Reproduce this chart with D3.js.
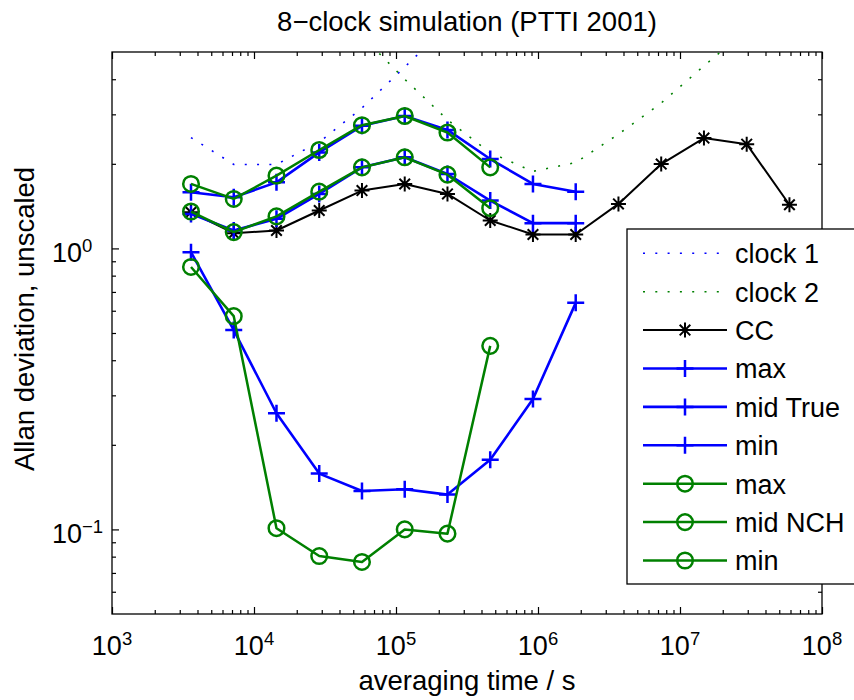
<!DOCTYPE html>
<html><head><meta charset="utf-8">
<script src="https://cdn.jsdelivr.net/npm/d3@7"></script>
<style>
body{margin:0;background:#fff}
svg{display:block;font-family:"Liberation Sans",Arial,Helvetica,sans-serif}
</style>
</head><body>
<svg id="c" width="854" height="700"></svg>
<script>
// ---------- data ----------
const tau = [3600, 7200, 14400, 28800, 57600, 115200, 230400, 460800, 921600, 1843200,
             3686400, 7372800, 14745600, 29491200, 58982400];
const clock1   = [2.48, 1.99, 1.99, 2.39, 3.16, 4.42, 6.2];
const clock2   = [null, null, null, null, 5.7, 4.0, 2.87, 2.19, 1.88, 2.02, 2.55, 3.29, 4.46, 6.0];
const cc       = [1.345, 1.133, 1.158, 1.364, 1.606, 1.695, 1.563, 1.257, 1.121, 1.121, 1.44, 1.996, 2.47, 2.35, 1.43];
const trueMax  = [1.584, 1.52, 1.718, 2.196, 2.73, 2.96, 2.64, 2.08, 1.696, 1.592];
const trueMid  = [1.327, 1.158, 1.274, 1.563, 1.943, 2.11, 1.84, 1.48, 1.23, 1.23];
const trueMin  = [0.970, 0.512, 0.259, 0.158, 0.137, 0.139, 0.133, 0.177, 0.291, 0.640];
const nchMax   = [1.696, 1.50, 1.815, 2.24, 2.745, 2.96, 2.585, 1.943];
const nchMid   = [1.353, 1.143, 1.30, 1.592, 1.943, 2.11, 1.83, 1.39];
const nchMin   = [0.859, 0.574, 0.101, 0.0804, 0.0766, 0.100, 0.0966, 0.450];
const legendLabels = ["clock 1", "clock 2", "CC", "max", "mid True", "min", "max", "mid NCH", "min"];
const xTickExps = [3, 4, 5, 6, 7, 8];
const yTickExps = [-1, 0];
const titleText = "8\u2212clock simulation (PTTI 2001)";
const xLabel = "averaging time / s";
const yLabel = "Allan deviation, unscaled";

// ---------- layout ----------
const L = 112, R = 822, T = 52, B = 614;
const svg = d3.select("#c");
const x = d3.scaleLog().domain([1e3, 1e8]).range([L, R]);
const y = d3.scaleLog().domain([0.05, 5]).range([B, T]);

const BLUE = "#0000ff", GREEN = "#008000", BLACK = "#000000";
const series = [
  {data: clock1, color: BLUE, dotted: true, marker: null},
  {data: clock2, color: GREEN, dotted: true, marker: null},
  {data: cc, color: BLACK, marker: "star", lw: 2},
  {data: trueMax, color: BLUE, marker: "plus", lw: 2.6},
  {data: trueMid, color: BLUE, marker: "plus", lw: 2.6},
  {data: trueMin, color: BLUE, marker: "plus", lw: 2.6},
  {data: nchMax, color: GREEN, marker: "circle", lw: 2.5},
  {data: nchMid, color: GREEN, marker: "circle", lw: 2.5},
  {data: nchMin, color: GREEN, marker: "circle", lw: 2.5}
];

svg.append("defs").append("clipPath").attr("id", "clip")
  .append("rect").attr("x", L).attr("y", T).attr("width", R - L).attr("height", B - T);

// ---------- axes ----------
const majX = xTickExps.map(e => Math.pow(10, e));
const minX = [];
for (let e = 3; e < 8; e++) for (let m = 2; m <= 9; m++) minX.push(m * Math.pow(10, e));
const majY = yTickExps.map(e => Math.pow(10, e));
const minY = [0.06, 0.07, 0.08, 0.09, 0.2, 0.3, 0.4, 0.5, 0.6, 0.7, 0.8, 0.9, 2, 3, 4];

function styleAxis(g) {
  g.select(".domain").remove();
  g.selectAll("line").attr("stroke", "#000").attr("stroke-width", 1.2);
  g.selectAll("text").remove();
}
const axG = svg.append("g");
axG.append("g").attr("transform", `translate(0,${B})`).call(d3.axisBottom(x).tickValues(majX).tickSizeInner(-7).tickSizeOuter(0)).call(styleAxis);
axG.append("g").attr("transform", `translate(0,${B})`).call(d3.axisBottom(x).tickValues(minX).tickSizeInner(-4).tickSizeOuter(0)).call(styleAxis);
axG.append("g").attr("transform", `translate(0,${T})`).call(d3.axisTop(x).tickValues(majX).tickSizeInner(-7).tickSizeOuter(0)).call(styleAxis);
axG.append("g").attr("transform", `translate(0,${T})`).call(d3.axisTop(x).tickValues(minX).tickSizeInner(-4).tickSizeOuter(0)).call(styleAxis);
axG.append("g").attr("transform", `translate(${L},0)`).call(d3.axisLeft(y).tickValues(majY).tickSizeInner(-7).tickSizeOuter(0)).call(styleAxis);
axG.append("g").attr("transform", `translate(${L},0)`).call(d3.axisLeft(y).tickValues(minY).tickSizeInner(-4).tickSizeOuter(0)).call(styleAxis);
axG.append("g").attr("transform", `translate(${R},0)`).call(d3.axisRight(y).tickValues(majY).tickSizeInner(-7).tickSizeOuter(0)).call(styleAxis);
axG.append("g").attr("transform", `translate(${R},0)`).call(d3.axisRight(y).tickValues(minY).tickSizeInner(-4).tickSizeOuter(0)).call(styleAxis);
svg.append("rect").attr("x", L).attr("y", T).attr("width", R - L).attr("height", B - T)
  .attr("fill", "none").attr("stroke", "#000").attr("stroke-width", 1.3);

// tick labels
xTickExps.forEach(e => {
  const t = svg.append("text").attr("x", x(Math.pow(10, e))).attr("y", 655)
    .attr("text-anchor", "middle").attr("font-size", 27).attr("fill", "#000");
  t.append("tspan").text("10");
  t.append("tspan").attr("font-size", 18.5).attr("dy", -10).text(String(e));
});
yTickExps.forEach(e => {
  const t = svg.append("text").attr("x", 52).attr("y", y(Math.pow(10, e)) + 14)
    .attr("text-anchor", "start").attr("font-size", 27).attr("fill", "#000");
  t.append("tspan").text("10");
  t.append("tspan").attr("font-size", 18.5).attr("dy", -10).text(e < 0 ? "\u2212" + Math.abs(e) : String(e));
});

// titles
svg.append("text").attr("x", (L + R) / 2).attr("y", 31).attr("text-anchor", "middle")
  .attr("font-size", 27.5).text(titleText);
svg.append("text").attr("x", (L + R) / 2).attr("y", 690).attr("text-anchor", "middle")
  .attr("font-size", 27.5).text(xLabel);
svg.append("text").attr("transform", `translate(34,${(T + B) / 2 - 14}) rotate(-90)`).attr("text-anchor", "middle")
  .attr("font-size", 27.5).text(yLabel);

// ---------- markers ----------
function drawMarker(g, type, cx, cy, color) {
  if (type === "star") {
    const s = 7.5, d = 5.3;
    g.append("path").attr("d", `M${cx - s},${cy}L${cx + s},${cy}M${cx},${cy - s}L${cx},${cy + s}M${cx - d},${cy - d}L${cx + d},${cy + d}M${cx - d},${cy + d}L${cx + d},${cy - d}`)
      .attr("stroke", color).attr("stroke-width", 2).attr("fill", "none");
  } else if (type === "plus") {
    const s = 8.5;
    g.append("path").attr("d", `M${cx - s},${cy}L${cx + s},${cy}M${cx},${cy - s}L${cx},${cy + s}`)
      .attr("stroke", color).attr("stroke-width", 2.5).attr("fill", "none");
  } else if (type === "circle") {
    g.append("circle").attr("cx", cx).attr("cy", cy).attr("r", 7.8)
      .attr("stroke", color).attr("stroke-width", 2.5).attr("fill", "none");
  }
}

// ---------- series ----------
const plotG = svg.append("g").attr("clip-path", "url(#clip)");
series.forEach(s => {
  const pts = s.data.map((v, i) => [tau[i], v]).filter(p => p[1] != null);
  const line = d3.line().x(p => x(p[0])).y(p => y(p[1]));
  const path = plotG.append("path").attr("d", line(pts)).attr("fill", "none").attr("stroke", s.color);
  if (s.dotted) path.attr("stroke-width", 1.6).attr("stroke-dasharray", "2,10.3");
  else path.attr("stroke-width", s.lw).attr("stroke-linejoin", "round");
  if (s.marker) pts.forEach(p => drawMarker(plotG, s.marker, x(p[0]), y(p[1]), s.color));
});

// ---------- legend ----------
const lg = svg.append("g");
lg.append("rect").attr("x", 627).attr("y", 229).attr("width", 260).attr("height", 355)
  .attr("fill", "#fff").attr("stroke", "#000").attr("stroke-width", 1.3);
series.forEach((s, i) => {
  const cy = 253.3 + i * 38.4;
  const ln = lg.append("line").attr("x1", 643).attr("x2", 727).attr("y1", cy).attr("y2", cy).attr("stroke", s.color);
  if (s.dotted) ln.attr("stroke-width", 1.6).attr("stroke-dasharray", "2,10.3");
  else ln.attr("stroke-width", s.lw);
  if (s.marker) drawMarker(lg, s.marker, 685, cy, s.color);
  lg.append("text").attr("x", 735).attr("y", cy + 9.8).attr("font-size", 27).text(legendLabels[i]);
});
</script>
</body></html>
